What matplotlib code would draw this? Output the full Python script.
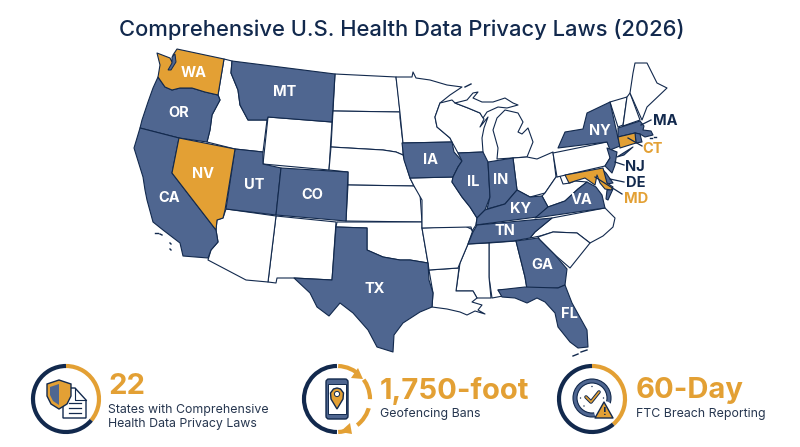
# Comprehensive U.S. health data privacy laws, map plus three stat badges
import matplotlib
matplotlib.use('Agg')
import matplotlib.pyplot as plt
from matplotlib.patches import Polygon, Arc, Circle, FancyBboxPatch, Rectangle

NAVY = '#12294d'
BLUE = '#4f6690'
ORANGE = '#e3a034'
TEXT = '#26364f'

plt.rcParams['font.family'] = ['Inter', 'DejaVu Sans']

# ---------- state outlines (pixels) ----------
WA = [(157,53),(170,58),(172,62),(173,55),(177,49),(224,59),(218,95),(205,92),(192,88),(180,88),(172,90),(165,87),(158,77),(160,65)]
OR = [(158,77),(165,87),(172,90),(180,88),(192,88),(205,92),(218,95),(220,100),(212,115),(210,130),(207,142),(179,138),(140,128),(142,120),(148,102),(153,88)]
CA = [(140,128),(179,138),(172,173),(216,230),(218,242),(211,250),(208,258),(183,256),(180,243),(163,230),(153,222),(147,200),(145,190),(143,177),(134,148)]
NV = [(179,138),(235,149),(225,210),(223,218),(217,220),(216,230),(172,173)]
ID = [(224,59),(232,61),(231,73),(238,90),(240,105),(248,120),(267,120),(263,152),(235,149),(207,142),(210,130),(212,115),(220,100),(218,95)]
MT = [(232,61),(335,74),(332,122),(268,117),(267,120),(248,120),(240,105),(238,90),(231,73)]
WY = [(268,117),(332,122),(329,170),(263,164)]
UT = [(235,149),(263,152),(263,164),(281,168),(276,215),(226,209)]
CO = [(281,168),(348,172),(346,221),(276,215)]
NM = [(276,216),(336,222),(332,280),(294,278),(277,278),(276,283),(268,282)]
AZ = [(226,209),(276,216),(268,282),(246,280),(208,260),(211,250),(218,242),(216,230),(217,220),(223,218)]
TX = [(336,227),(367,228),(367,250),(383,257),(400,260),(410,260),(428,263),(429,280),(433,293),(432,307),(420,312),(403,323),(394,335),(393,352),(377,347),(368,330),(353,313),(340,303),(329,316),(317,307),(310,293),(294,278),(332,280)]
ND = [(335,74),(396,77),(398,92),(400,112),(333,111)]
SD = [(333,111),(400,112),(400,118),(403,143),(403,155),(396,152),(383,150),(331,147)]
NE = [(331,147),(383,150),(396,152),(403,155),(410,178),(414,186),(348,185),(348,172),(329,170)]
KS = [(348,185),(414,186),(420,194),(422,222),(346,221)]
OK = [(337,222),(422,222),(422,228),(428,263),(410,260),(400,260),(383,257),(367,250),(367,228),(336,227)]
MN = [(396,77),(412,77),(413,72),(416,78),(430,80),(447,85),(462,87),(450,95),(440,103),(435,117),(437,127),(450,138),(452,142),(403,143),(400,113)]
IA = [(402,143),(452,142),(454,152),(462,161),(458,167),(453,177),(410,178),(404,160)]
WI = [(440,103),(452,100),(455,103),(468,108),(480,113),(484,119),(480,127),(488,117),(484,128),(482,138),(483,152),(458,153),(452,142),(450,138),(437,127),(435,117)]
MI_UP = [(455,103),(467,100),(473,93),(478,92),(473,98),(482,102),(493,102),(505,98),(513,103),(518,105),(507,108),(498,107),(487,112),(483,118),(480,113),(468,108)]
MI_LP = [(505,110),(518,113),(523,122),(518,132),(522,134),(528,128),(533,142),(527,157),(497,159),(498,148),(493,130),(497,118)]
IL = [(458,153),(483,152),(488,162),(490,197),(485,210),(477,218),(470,207),(462,197),(452,182),(453,177),(458,167),(462,161)]
IN = [(488,162),(513,158),(517,190),(505,204),(487,209),(490,197)]
OH = [(513,158),(527,157),(537,159),(553,152),(556,177),(545,193),(530,197),(517,190)]
KY = [(517,190),(530,197),(542,196),(548,207),(537,217),(476,225),(477,218),(485,210),(505,204)]
TN = [(477,225),(552,218),(535,232),(530,238),(513,241),(468,244),(473,232)]
VA = [(535,218),(605,208),(602,195),(596,187),(587,182),(578,189),(565,201),(548,207)]
WV = [(556,177),(560,176),(563,184),(570,183),(575,181),(587,182),(578,189),(565,201),(548,207),(542,196),(545,193)]
PA = [(553,153),(607,142),(612,150),(610,158),(605,166),(557,177)]
MD = [(565,175),(603,168),(607,183),(613,187),(611,190),(605,189),(600,183),(597,175),(595,185),(585,178),(575,181),(569,183)]
DE = [(603,170),(606,173),(613,183),(607,184)]
VA_SHORE = [(607,190),(613,189),(608,200),(606,199)]
NC = [(552,218),(605,208),(615,218),(613,227),(603,236),(590,243),(577,233),(553,232),(540,236),(530,238),(535,232)]
SC = [(538,237),(553,232),(577,233),(590,243),(578,258),(570,268),(555,255),(540,240)]
GA = [(516,241),(538,238),(555,255),(567,269),(565,285),(558,288),(527,289),(525,277)]
AL = [(489,243),(516,241),(525,277),(527,289),(498,290),(503,296),(492,298),(489,277)]
MS = [(468,244),(489,243),(489,277),(491,298),(477,298),(473,291),(456,291),(460,263)]
LA = [(429,270),(459,268),(456,291),(473,291),(477,298),(472,302),(482,305),(478,310),(485,314),(475,311),(467,315),(460,312),(447,309),(432,307),(433,293)]
AR = [(422,228),(465,226),(473,230),(468,244),(460,263),(458,268),(429,270),(428,263)]
MO = [(410,178),(453,177),(452,182),(462,197),(470,207),(477,218),(476,225),(472,231),(471,227),(422,228),(422,200),(414,186)]
FL = [(498,290),(525,287),(558,288),(565,285),(572,303),(587,330),(588,347),(578,348),(570,342),(558,327),(555,313),(545,302),(537,298),(527,303),(515,298),(502,297)]
NY = [(558,148),(565,132),(583,129),(587,113),(610,102),(618,138),(620,146),(610,150),(607,142)]
LONG_ISLAND = [(617,157),(633,147),(624,155)]
NJ = [(607,148),(617,152),(615,165),(612,173),(605,166),(610,158)]
VT = [(610,102),(627,97),(623,125),(618,127)]
NH = [(627,97),(630,93),(640,120),(623,126)]
ME = [(630,93),(633,73),(635,63),(647,63),(657,83),(667,88),(647,107),(642,120)]
MA = [(618,128),(640,121),(644,126),(643,130),(651,131),(653,135),(645,137),(640,134),(635,133),(618,137)]
CT = [(618,137),(635,133),(636,143),(620,148)]
RI = [(635,133),(640,134),(642,142),(636,143)]
PUGET = [(168,70),(172,63),(172,57),(175,54),(176,62),(171,70)]

blue_states = [OR, CA, MT, UT, CO, TX, IA, IL, IN, KY, TN, VA, VA_SHORE, GA, FL, NY, LONG_ISLAND, NJ, DE, MA, RI]
orange_states = [WA, NV, MD, CT]
white_states = [ID, WY, NM, AZ, ND, SD, NE, KS, OK, MN, WI, MI_UP, MI_LP, OH, WV, PA, NC, SC, AL, MS, LA, AR, MO, VT, NH, ME]
# small islands, drawn as short strokes
islands = [[(155,233),(158,233)], [(160,234),(162,235)], [(170,243),(171,244)], [(170,249),(171,250)],
           [(465,87),(471,84)], [(573,356),(578,354)], [(581,352),(587,350)],
           [(650,138),(652,138)], [(654,137),(656,137)]]

# label, x, y
inside_labels = [('WA',194,73),('OR',179,113),('MT',285,92),('CA',169,198),('NV',203,174),('UT',254,185),
                 ('CO',312,195),('TX',375,289),('IA',431,160),('IL',473,182),('IN',501,180),('KY',521,209),
                 ('TN',505,231),('NY',600,131),('VA',582,200),('GA',542,265),('FL',569,314)]
# label, colour, text position, leader start, leader end
outside_labels = [('MA',NAVY,(665,121),(641,125),(651,120)),
                  ('CT',ORANGE,(653,149),(628,138),(642,146)),
                  ('NJ',NAVY,(635,167),(615,162),(624,165)),
                  ('DE',NAVY,(636,183),(610,179),(624,182)),
                  ('MD',ORANGE,(636,199),(595,177),(622,194))]

ring_x = [66, 337, 592]
ring_y = 399
ring_r = 33
stat_values = ['22', '1,750-foot', '60-Day']
stat_x = [108, 380, 636]
stat_captions = [['States with Comprehensive', 'Health Data Privacy Laws'], ['Geofencing Bans'], ['FTC Breach Reporting']]

fig = plt.figure(figsize=(8, 4.47), dpi=100, facecolor='white')
ax = fig.add_axes([0, 0, 1, 1])
ax.set_xlim(0, 800)
ax.set_ylim(447, 0)
ax.axis('off')

ax.text(402, 30, 'Comprehensive U.S. Health Data Privacy Laws (2026)', ha='center', va='center',
        fontsize=15.8, color=NAVY, fontweight='medium')

# ---------- map ----------
for group, colour in [(white_states, 'white'), (blue_states, BLUE), (orange_states, ORANGE)]:
    for pts in group:
        ax.add_patch(Polygon(pts, closed=True, facecolor=colour, edgecolor=NAVY, lw=0.8, joinstyle='round'))
ax.add_patch(Polygon(PUGET, closed=True, facecolor=BLUE, edgecolor=NAVY, lw=0.7))
for pts in islands:
    ax.plot([p[0] for p in pts], [p[1] for p in pts], color=NAVY, lw=1)

for name, x, y in inside_labels:
    ax.text(x, y, name, ha='center', va='center', color='white', fontsize=10.5, fontweight='bold')

for name, colour, pos, p0, p1 in outside_labels:
    ax.plot([p0[0], p1[0]], [p0[1], p1[1]], color=NAVY, lw=0.9)
    ax.text(pos[0], pos[1], name, ha='center', va='center', color=colour, fontsize=10.5, fontweight='bold')


# ---------- badges ----------
def ring_arc(cx, start, end, colour, **kw):
    # y axis runs down, so these angles go clockwise on screen
    ax.add_patch(Arc((cx, ring_y), 2 * ring_r, 2 * ring_r, theta1=start, theta2=end, color=colour, lw=3, **kw))


ring_arc(ring_x[0], 270, 400, ORANGE)
ring_arc(ring_x[0], 40, 270, NAVY)
ring_arc(ring_x[1], 90, 270, NAVY)
ring_arc(ring_x[1], 272, 448, ORANGE, linestyle=(0, (5, 2.2)))
ring_arc(ring_x[2], 270, 410, ORANGE)
ring_arc(ring_x[2], 50, 270, NAVY)

# shield and document
cx = ring_x[0]
doc = [(cx-3,388),(cx+9,388),(cx+20,400),(cx+20,418),(cx-3,418)]
ax.add_patch(Polygon(doc, facecolor='white', edgecolor=NAVY, lw=1, zorder=3))
ax.plot([cx+9,cx+9,cx+20], [388,400,400], color=NAVY, lw=0.8, zorder=4)
for y, x1 in [(403,15),(408,15),(413,15)]:
    ax.plot([cx+3, cx+x1], [y, y], color=NAVY, lw=0.9, zorder=4)
shield = [(cx-7,380),(cx+5,384),(cx+5,396),(cx+1,404),(cx-7,409),(cx-15,404),(cx-19,396),(cx-19,384)]
ax.add_patch(Polygon(shield, facecolor=ORANGE, edgecolor=NAVY, lw=1, zorder=5))
ax.add_patch(Polygon([(cx-7,384),(cx-7,405),(cx-13,401),(cx-16,395),(cx-16,387)], facecolor=BLUE, edgecolor='none', zorder=6))

# phone and pin
cx = ring_x[1]
ax.add_patch(FancyBboxPatch((cx-11,379), 22, 40, boxstyle='round,pad=0,rounding_size=3', facecolor=BLUE, edgecolor=NAVY, lw=1, zorder=3))
ax.add_patch(Rectangle((cx-9,384), 18, 30, facecolor='white', edgecolor=NAVY, lw=0.7, zorder=4))
pin = [(cx,409),(cx-6,399),(cx-6.5,393),(cx-3.5,389),(cx,388),(cx+3.5,389),(cx+6.5,393),(cx+6,399)]
ax.add_patch(Polygon(pin, facecolor=ORANGE, edgecolor=NAVY, lw=1, zorder=5))
ax.add_patch(Circle((cx,394), 2.6, facecolor='white', edgecolor=NAVY, lw=0.7, zorder=6))
# arrow heads on the dashed ring
ax.add_patch(Polygon([(cx+21,368),(cx+26,379),(cx+14,378)], facecolor=ORANGE, edgecolor='none', zorder=4))
ax.add_patch(Polygon([(cx+3,432),(cx+13,423),(cx+15,434)], facecolor=ORANGE, edgecolor='none', zorder=4))

# clock and warning triangle
cx = ring_x[2]
ax.add_patch(Circle((cx,398), 19, facecolor=BLUE, edgecolor=NAVY, lw=0.8, zorder=3))
ax.add_patch(Circle((cx,398), 15, facecolor='white', edgecolor=NAVY, lw=0.8, zorder=4))
for px, py in [(cx,386.5),(cx-11.5,398),(cx+11.5,398),(cx-8,406)]:
    ax.add_patch(Circle((px,py), 0.7, facecolor=NAVY, edgecolor='none', zorder=5))
ax.plot([cx-6,cx-1,cx+7], [397,402,392], color=NAVY, lw=2.6, zorder=5, solid_capstyle='round')
ax.plot([cx-6,cx-1,cx+7], [397,402,392], color=ORANGE, lw=1.2, zorder=6, solid_capstyle='round')
ax.add_patch(Circle((cx+12,411), 10, facecolor='white', edgecolor='none', zorder=6))
ax.add_patch(Polygon([(cx+3,418),(cx+21,418),(cx+12,402)], facecolor=ORANGE, edgecolor=NAVY, lw=1, joinstyle='round', zorder=7))
ax.text(cx+12, 412, '!', ha='center', va='center', color=NAVY, fontsize=8, fontweight='bold', zorder=8)

# stat text
for x, value, lines in zip(stat_x, stat_values, stat_captions):
    y_value = 386 if len(lines) == 2 else 391
    ax.text(x, y_value, value, ha='left', va='center', color=ORANGE, fontsize=21, fontweight='bold')
    y_first = 410 if len(lines) == 2 else 414
    for i, line in enumerate(lines):
        ax.text(x, y_first + i * 14, line, ha='left', va='center', color=TEXT, fontsize=8.9)

fig.savefig('out.png', dpi=100)
